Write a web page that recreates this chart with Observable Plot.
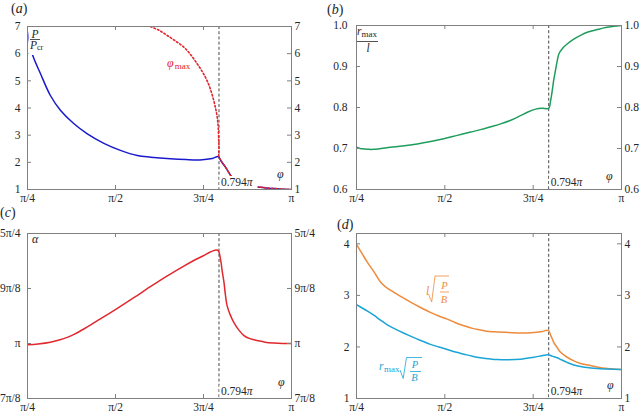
<!DOCTYPE html>
<html><head><meta charset="utf-8">
<script src="https://cdn.jsdelivr.net/npm/d3@7"></script>
<script src="https://cdn.jsdelivr.net/npm/@observablehq/plot@0.6"></script>
<style>
body{margin:0;background:#fff}
#wrap{position:relative;width:641px;height:415px;overflow:hidden;background:#fff}
.pn{position:absolute}
.pn svg{display:block;max-width:none}
#ov{position:absolute;left:0;top:0}
</style></head><body><div id="wrap"></div>
<script>
// ---------- shared ----------
const phiTicks = [0.25, 0.5, 0.75, 1];
const phiTickLabels = ["π/4", "π/2", "3π/4", "π"];
const critPhi = [0.794];

// ---------- (a) P/Pcr and phi_max ----------
const aPhi  = [0.25,0.257,0.265,0.287,0.315,0.344,0.382,0.42,0.467,0.514,0.562,0.6,0.656,0.70,0.74,0.775,0.792,0.80,0.8125,0.8315,0.85,0.87,0.89,0.912,0.935,0.959,0.98,1.0];
const aLoad = [6.8,6.35,5.93,5.26,4.46,3.91,3.42,3.05,2.70,2.44,2.25,2.19,2.13,2.10,2.09,2.14,2.21,2.05,1.82,1.45,1.30,1.19,1.12,1.085,1.05,1.03,1.01,1.0];
const aMaxPhi = [0.599,0.625,0.647,0.67,0.694,0.713,0.732,0.747,0.76,0.77,0.779,0.785,0.789,0.792,0.793,0.794,0.794,0.80,0.8125,0.8315,0.85,0.87,0.89,0.912,0.935,0.959,0.98,1.0];
const aMaxVal = [7.0,6.85,6.67,6.47,6.24,5.97,5.63,5.33,5.01,4.68,4.28,3.95,3.66,3.25,2.92,2.55,2.21,2.05,1.82,1.45,1.30,1.19,1.12,1.085,1.05,1.03,1.01,1.0];
const aYTicks = [1,2,3,4,5,6,7];

// ---------- (b) r_max / l ----------
const bPhi = [0.25,0.26,0.271,0.285,0.299,0.32,0.346,0.38,0.422,0.46,0.497,0.535,0.573,0.601,0.63,0.658,0.69,0.714,0.735,0.757,0.776,0.794,0.799,0.804,0.808,0.813,0.818,0.823,0.834,0.846,0.865,0.884,0.905,0.931,0.955,0.978,1.0];
const bRatio = [0.703,0.700,0.699,0.698,0.698,0.700,0.703,0.706,0.711,0.717,0.724,0.732,0.740,0.746,0.753,0.760,0.770,0.780,0.789,0.796,0.798,0.798,0.815,0.841,0.866,0.890,0.913,0.931,0.945,0.955,0.967,0.976,0.984,0.990,0.995,0.998,1.0];
const bYTicks = [0.6,0.7,0.8,0.9,1.0];

// ---------- (c) alpha (in units of π) ----------
const cPhi = [0.25,0.28,0.315,0.34,0.363,0.385,0.41,0.433,0.457,0.504,0.552,0.599,0.646,0.694,0.741,0.79,0.798,0.803,0.808,0.812,0.817,0.826,0.836,0.85,0.865,0.882,0.902,0.925,0.95,0.975,1.0];
const cAlpha = [0.997,0.999,1.003,1.008,1.014,1.022,1.033,1.044,1.056,1.079,1.104,1.129,1.153,1.176,1.196,1.212,1.193,1.165,1.140,1.112,1.086,1.065,1.048,1.031,1.018,1.011,1.007,1.003,1.001,1.0,1.0];
const cYTicks = [0.875,1,1.125,1.25];
const cYTickLabels = ["7π/8","π","9π/8","5π/4"];

// ---------- (d) l·sqrt(P/B) and r_max·sqrt(P/B) ----------
const dPhi = [0.25,0.265,0.28,0.30,0.318,0.337,0.356,0.38,0.403,0.43,0.459,0.483,0.507,0.53,0.554,0.578,0.601,0.625,0.648,0.68,0.714,0.752,0.775,0.793,0.80,0.809,0.818,0.827,0.846,0.865,0.884,0.905,0.931,0.96,1.0];
const dLen = [3.99,3.82,3.65,3.45,3.26,3.14,3.06,2.96,2.87,2.77,2.67,2.60,2.54,2.47,2.41,2.36,2.33,2.30,2.29,2.28,2.27,2.28,2.30,2.32,2.22,2.08,1.99,1.90,1.80,1.73,1.68,1.65,1.61,1.58,1.56];
const dRmax = [2.82,2.76,2.70,2.61,2.52,2.43,2.36,2.28,2.21,2.13,2.05,2.00,1.95,1.90,1.86,1.82,1.79,1.77,1.755,1.75,1.76,1.80,1.83,1.85,1.83,1.81,1.79,1.76,1.70,1.65,1.62,1.60,1.58,1.57,1.56];
const dYTicks = [1,2,3,4];

// ---------- helpers ----------
const SERIF = "'Liberation Serif','Times New Roman',serif";
const GRAY = "#808080";
const INK = "#262626";
const rows = (xs, ys) => xs.map((p, i) => ({phi: p, v: ys[i]}));
const xFmt = new Map(phiTicks.map((t, i) => [t, phiTickLabels[i]]));

function panel(o) {
  const fw = o.w - o.ml - o.mr, fh = o.h - o.mt - o.mb;
  const yFmt = o.yFmt;
  const plot = Plot.plot({
    width: o.w, height: o.h,
    marginLeft: o.ml, marginRight: o.mr, marginTop: o.mt, marginBottom: o.mb,
    x: {domain: [0.25, 1], axis: null},
    y: {domain: o.yDomain, axis: null},
    style: {fontFamily: SERIF, fontSize: "11.5px", color: INK, background: "transparent", overflow: "visible"},
    marks: [
      Plot.ruleX(critPhi, {x: d => d, stroke: "#333", strokeDasharray: "3,2.2", strokeWidth: 0.9}),
      ...o.marks,
      Plot.frame({stroke: GRAY}),
      Plot.tickX(phiTicks, {x: d => d, insetTop: fh - 4, stroke: GRAY}),
      Plot.tickX(phiTicks, {x: d => d, insetBottom: fh - 4, stroke: GRAY}),
      Plot.tickY(o.yTicks, {y: d => d, insetRight: fw - 4, stroke: GRAY}),
      Plot.tickY(o.yTicks, {y: d => d, insetLeft: fw - 4, stroke: GRAY}),
      Plot.axisX(phiTicks, {anchor: "bottom", label: null, tickSize: 0, tickPadding: 4, tickFormat: d => xFmt.get(d), fill: INK}),
      Plot.axisY(o.yTicks, {anchor: "left", label: null, tickSize: 0, tickPadding: o.padL, tickFormat: yFmt, fill: INK}),
      Plot.axisY(o.yTicks, {anchor: "right", label: null, tickSize: 0, tickPadding: 3, tickFormat: yFmt, fill: INK})
    ]
  });
  const div = document.createElement("div");
  div.className = "pn";
  div.style.left = o.left + "px"; div.style.top = o.top + "px";
  div.appendChild(plot);
  document.getElementById("wrap").appendChild(div);
  return {plot, o, x: v => o.left + plot.scale("x").apply(v), bottom: o.top + o.h - o.mb};
}

const BLUE = "#1a1acd", RED = "#e3242b", GREEN = "#1f9d5c", RED2 = "#e0282e", ORANGE = "#ee8a3c", CYAN = "#1aa5d6";
const CURVE = "catmull-rom";

const pA = panel({left: 0, top: 0, w: 320, h: 207, ml: 27, mr: 29, mt: 26, mb: 18, padL: 7,
  yDomain: [1, 7], yTicks: aYTicks, yFmt: d => String(d),
  marks: [
    Plot.line(rows(aPhi, aLoad), {x: "phi", y: "v", stroke: BLUE, strokeWidth: 1.5, curve: CURVE, clip: true}),
    Plot.line(rows(aMaxPhi, aMaxVal), {x: "phi", y: "v", stroke: RED, strokeWidth: 1.6, strokeDasharray: "1.6,2.2", curve: CURVE, clip: true})
  ]});

const pB = panel({left: 320, top: 0, w: 321, h: 207, ml: 36, mr: 20, mt: 25, mb: 18, padL: 9,
  yDomain: [0.6, 1.0], yTicks: bYTicks, yFmt: d => d.toFixed(1),
  marks: [
    Plot.line(rows(bPhi, bRatio), {x: "phi", y: "v", stroke: GREEN, strokeWidth: 1.5, curve: CURVE, clip: true})
  ]});

const cFmt = new Map(cYTicks.map((t, i) => [t, cYTickLabels[i]]));
const pC = panel({left: 0, top: 207, w: 320, h: 208, ml: 27, mr: 29, mt: 26, mb: 17, padL: 7,
  yDomain: [0.875, 1.25], yTicks: cYTicks, yFmt: d => cFmt.get(d),
  marks: [
    Plot.line(rows(cPhi, cAlpha), {x: "phi", y: "v", stroke: RED2, strokeWidth: 1.5, curve: CURVE, clip: true})
  ]});

const pD = panel({left: 320, top: 207, w: 321, h: 208, ml: 36, mr: 20, mt: 26, mb: 17, padL: 7,
  yDomain: [1, 4.2], yTicks: dYTicks, yFmt: d => String(d),
  marks: [
    Plot.line(rows(dPhi, dLen), {x: "phi", y: "v", stroke: ORANGE, strokeWidth: 1.5, curve: CURVE, clip: true}),
    Plot.line(rows(dPhi, dRmax), {x: "phi", y: "v", stroke: CYAN, strokeWidth: 1.5, curve: CURVE, clip: true})
  ]});

// ---------- annotation overlay ----------
const ov = d3.select("#wrap").append("svg").attr("id", "ov").attr("width", 641).attr("height", 415);

function txt(x, y, parts, o = {}) {
  const t = ov.append("text").attr("x", x).attr("y", y)
    .attr("font-family", SERIF).attr("font-size", o.size || 11.5).attr("fill", o.fill || INK);
  if (o.anchor) t.attr("text-anchor", o.anchor);
  for (const p of parts) {
    const s = t.append("tspan").text(p.t);
    if (p.i) s.attr("font-style", "italic");
    if (p.size) s.attr("font-size", p.size);
    if (p.dy) s.attr("dy", p.dy);
    if (p.dx) s.attr("dx", p.dx);
  }
  return t;
}
function hline(x1, x2, y, c) {
  ov.append("line").attr("x1", x1).attr("x2", x2).attr("y1", y).attr("y2", y).attr("stroke", c || INK).attr("stroke-width", 0.8);
}
function radical(x0, yMid, yBot, yTop, xEnd, c) {
  ov.append("path").attr("d", `M${x0},${yMid} L${x0 + 3.2},${yBot} L${x0 + 6.5},${yTop} L${xEnd},${yTop}`)
    .attr("fill", "none").attr("stroke", c).attr("stroke-width", 0.8);
}

// panel titles
const title = (x, y, l) => txt(x, y, [{t: "("}, {t: l, i: true}, {t: ")"}], {size: 14});
title(11, 12.5, "a"); title(327, 14, "b"); title(0, 217, "c"); title(337, 229, "d");

// critical-angle labels with white backing
for (const p of [pA, pB, pC, pD]) {
  const x = p.x(critPhi[0]);
  ov.append("rect").attr("x", x + 1).attr("y", p.bottom - 13).attr("width", 38).attr("height", 12.5).attr("fill", "#fff");
  txt(x + 2.5, p.bottom - 3, [{t: "0.794"}, {t: "π", i: true}]);
}

// phi axis names
txt(277, 178, [{t: "φ", i: true}], {size: 12});
txt(606, 180, [{t: "φ", i: true}], {size: 12});
txt(278, 386, [{t: "φ", i: true}], {size: 12});
txt(607, 389, [{t: "φ", i: true}], {size: 12});

// (a) P / P_cr
ov.append("rect").attr("x", 28.5).attr("y", 27).attr("width", 19).attr("height", 28).attr("fill", "#fff");
txt(35, 37.5, [{t: "P", i: true}], {anchor: "middle"});
hline(30, 40, 39.5);
txt(30, 48.5, [{t: "P", i: true}, {t: "cr", size: 8, dy: 1.5}]);
// phi_max
txt(167, 67, [{t: "φ", i: true}, {t: "max", size: 9, dy: 2, dx: 1}], {fill: RED, size: 12});

// (b) r_max / l
txt(357, 35, [{t: "r", i: true}, {t: "max", size: 9, dy: 1.5}]);
hline(357, 378, 41.5);
txt(368, 52, [{t: "l", i: true}], {anchor: "middle"});

// (c) alpha
txt(32, 243, [{t: "α", i: true}], {size: 12});

// (d) labels
txt(426, 295, [{t: "l", i: true}], {fill: ORANGE});
radical(428.5, 294, 302, 276, 449, ORANGE);
txt(444.5, 288.5, [{t: "P", i: true}], {fill: ORANGE, anchor: "middle", size: 10.5});
hline(440, 449, 292, ORANGE);
txt(444, 303, [{t: "B", i: true}], {fill: ORANGE, anchor: "middle", size: 10.5});

txt(379, 370, [{t: "r", i: true}, {t: "max", size: 9, dy: 1.5, dx: 0.5}], {fill: CYAN});
radical(400, 370, 378.5, 357.5, 422, CYAN);
txt(415, 368, [{t: "P", i: true}], {fill: CYAN, anchor: "middle", size: 10.5});
hline(410, 421, 371.5, CYAN);
txt(414.5, 380.5, [{t: "B", i: true}], {fill: CYAN, anchor: "middle", size: 10.5});
</script></body></html>
